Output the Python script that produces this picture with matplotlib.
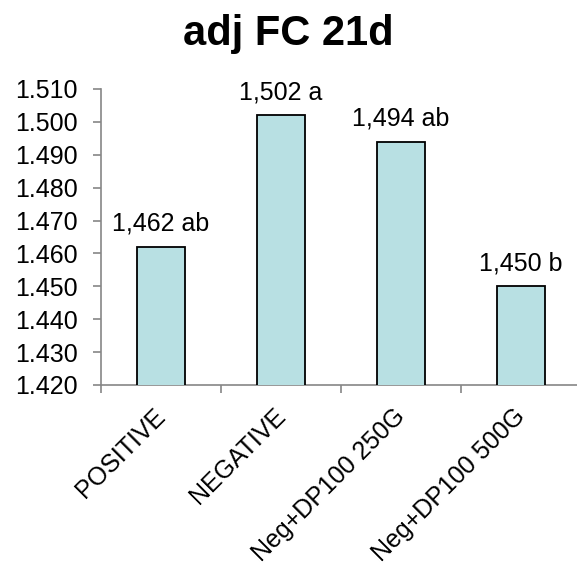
import numpy as np
import matplotlib.pyplot as plt
import matplotlib.transforms as mtransforms

# bar values and significance letters
groups = ['POSITIVE', 'NEGATIVE', 'Neg+DP100 250G', 'Neg+DP100 500G']
fc_values = [1.462, 1.502, 1.494, 1.450]
letters = ['ab', 'a', 'ab', 'b']
y_ticks = [1.420, 1.430, 1.440, 1.450, 1.460, 1.470, 1.480, 1.490, 1.500, 1.510]

plt.rcParams['font.family'] = ['Liberation Sans', 'DejaVu Sans']
axis_grey = '#868686'
fs = 18

fig = plt.figure(figsize=(5.77, 5.76), dpi=100)
# right edge runs slightly past the figure border
ax = fig.add_axes([101 / 577, 1 - 385 / 576, 480 / 577, 296 / 576])

x = np.arange(len(groups))
ax.bar(x, fc_values, width=0.4, color='#b8e0e3', edgecolor='black', linewidth=1.3, zorder=3)

for xi, v, s in zip(x, fc_values, letters):
    ax.annotate(f'{v:.3f}'.replace('.', ',') + ' ' + s, (xi, v),
                xytext=(0, 11.5), textcoords='offset points',
                ha='center', va='baseline', fontsize=fs)

ax.set_xlim(-0.5, 3.5)
ax.set_ylim(1.420, 1.510)
ax.set_yticks(y_ticks)
ax.set_yticklabels([f'{t:.3f}' for t in y_ticks], fontsize=fs)

# category boundaries carry the ticks, names sit at the centres
ax.set_xticks(x - 0.5)
ax.set_xticklabels([])
ax.set_xticks(x, minor=True)
ax.set_xticklabels(groups, minor=True, rotation=45, ha='right', va='top',
                   rotation_mode='anchor', fontsize=fs)
ax.tick_params(axis='x', which='minor', length=0, pad=12)
ax.tick_params(axis='x', which='major', length=6, width=1.2, color=axis_grey, direction='out')
ax.tick_params(axis='y', length=6, width=1.2, color=axis_grey, direction='out', pad=11)

# nudge the slanted names a little to the left
shift = mtransforms.ScaledTranslation(-8 / 100, -2 / 100, fig.dpi_scale_trans)
for lbl in ax.get_xticklabels(minor=True):
    lbl.set_transform(lbl.get_transform() + shift)

for side in ['top', 'right']:
    ax.spines[side].set_visible(False)
for side in ['left', 'bottom']:
    ax.spines[side].set_color(axis_grey)
    ax.spines[side].set_linewidth(1.2)

fig.text(0.5, 1 - 45 / 576, 'adj FC 21d', ha='center', va='baseline',
         fontsize=30, fontweight='bold')

fig.savefig('out.png', dpi=100)
